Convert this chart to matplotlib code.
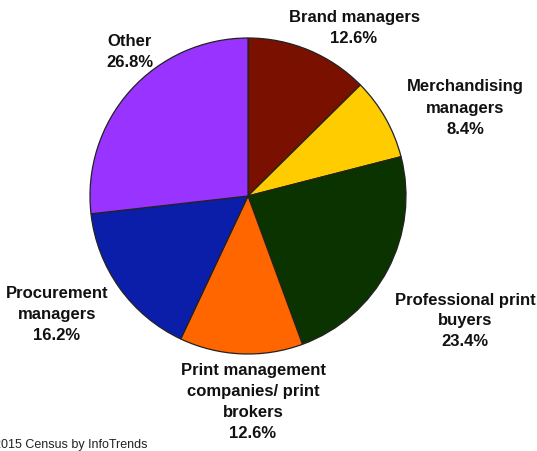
import matplotlib.pyplot as plt

# Survey shares, clockwise from 12 o'clock
segments = ["Brand managers", "Merchandising managers", "Professional print buyers",
            "Print management companies/ print brokers", "Procurement managers", "Other"]
shares = [12.6, 8.4, 23.4, 12.6, 16.2, 26.8]
label_text = ["Brand managers", "Merchandising\nmanagers", "Professional print\nbuyers",
              "Print management\ncompanies/ print\nbrokers", "Procurement\nmanagers", "Other"]
colors = ["#7A1000", "#FFCC00", "#0B3300", "#FF6600", "#0A1EAA", "#9933FF"]

plt.rcParams["font.family"] = ["Liberation Sans", "DejaVu Sans"]

W, H = 537, 452
fig = plt.figure(figsize=(W / 100, H / 100), dpi=100)
ax = fig.add_axes([0, 0, 1, 1])

cx, cy, r = 248, H - 197, 158
ax.pie(shares, colors=colors, startangle=90, counterclock=False,
       center=(cx, cy), radius=r, frame=True,
       wedgeprops=dict(edgecolor="#222222", linewidth=0.9))
ax.set_xlim(0, W)
ax.set_ylim(0, H)
ax.set_aspect("equal")
ax.axis("off")

# label anchor points (centre of text block, pixel coords from top)
label_pos = [(354, 28), (465, 108), (465, 321), (253, 402), (57, 314), (130, 52)]
for txt, val, (x, y) in zip(label_text, shares, label_pos):
    ax.text(x, H - y, f"{txt}\n{val:.1f}%", ha="center", va="center",
            fontsize=12, fontweight="bold", color="#111111", linespacing=1.5)

ax.text(-6, H - 445, "2015 Census by InfoTrends", ha="left", va="center",
        fontsize=9, color="#222222")

fig.savefig("out.png", dpi=100)
